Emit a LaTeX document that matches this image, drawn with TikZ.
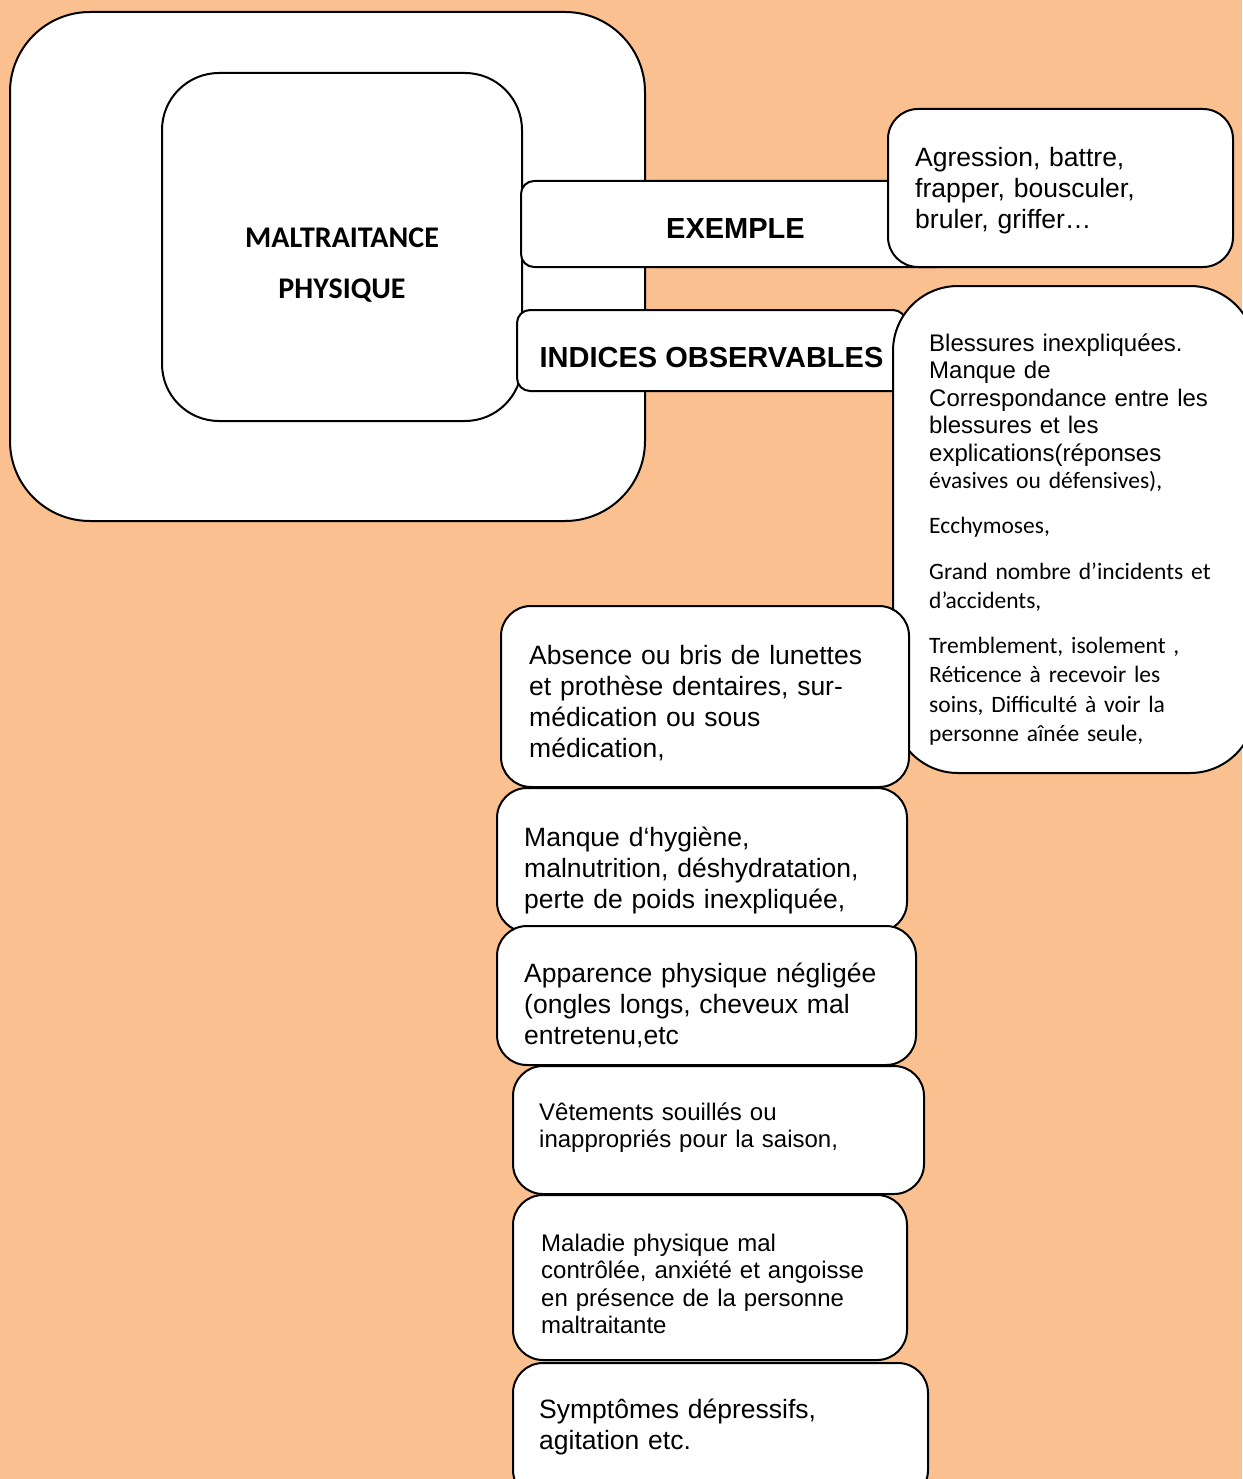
\documentclass[tikz,border=0pt]{standalone}
\usepackage{fontspec}
\setmainfont{Liberation Sans}
\newfontfamily\carlito{Carlito}
\definecolor{peach}{HTML}{FAC090}

\newcommand{\bigtext}{\fontsize{26.5}{31}\selectfont}
\newcommand{\smalltext}{\fontsize{24}{27.5}\selectfont}
\newcommand{\calibritext}{\carlito\fontsize{23.5}{29.5}\selectfont}

\tikzset{
  cellbox/.style={draw=black, line width=2pt, fill=white, rounded corners=#1},
  cellbox/.default=30pt,
  celltext/.style={anchor=base west, inner sep=0pt, text width=400pt, font=#1},
  celltext/.default=\bigtext,
  tabtext/.style={anchor=base, inner sep=0pt, font=\bfseries\fontsize{29}{34}\selectfont}
}

\begin{document}
\begin{tikzpicture}[x=1pt,y=-1pt]

\useasboundingbox (0,0) rectangle (1242,1479);
\fill[peach] (0,0) rectangle (1242,1479);

\draw[cellbox=80pt] (10,12) rectangle (645,521);
\draw[cellbox=57pt] (162,73) rectangle (522,421);
\node[anchor=base, inner sep=0pt, align=center, text width=320pt,
      font=\carlito\bfseries\fontsize{30}{51.4}\selectfont] (titre) at (342,247.6) {MALTRAITANCE\\PHYSIQUE};

\draw[cellbox=13pt] (521,181) rectangle (950,267);
\node[tabtext] (exemple) at (735.5,239) {EXEMPLE};

\draw[cellbox=13pt] (517,310) rectangle (906,391);
\node[tabtext] (indices) at (711.5,367.5) {INDICES OBSERVABLES};

\draw[cellbox] (888,109) rectangle (1233,267);
\node[celltext] (gestes) at (915,167) {Agression, battre,\\ frapper, bousculer,\\ bruler, griffer…};

\draw[cellbox=65pt] (893,286) rectangle (1255,773);
\node[celltext=\smalltext] (blessures) at (929,351) {Blessures inexpliquées.\\ Manque de\\ Correspondance entre les\\ blessures et les\\ explications(réponses\\ {\carlito\fontsize{23.5}{27.5}\selectfont évasives ou défensives),}};
\node[celltext=\calibritext] (ecchymoses) at (929,533.5) {Ecchymoses,};
\node[celltext=\calibritext] (incidents) at (929,579) {Grand nombre d’incidents et\\ d’accidents,};
\node[celltext=\calibritext] (isolement) at (929,653) {Tremblement, isolement ,\\ Réticence à recevoir les\\ soins, Difficulté à voir la\\ personne aînée seule,};

\foreach \xa/\ya/\xb/\yb in {501/606/909/787, 497/788/907/932, 497/926/916/1065,
                             513/1066/924/1194, 513/1195/907/1360, 513/1363/928/1500} {
        \draw[cellbox] (\xa,\ya) rectangle (\xb,\yb);
}

\node[celltext] (lunettes) at (529,664) {Absence ou bris de lunettes\\ et prothèse dentaires, sur-\\ médication ou sous\\ médication,};
\node[celltext] (hygiene) at (524,846) {Manque d‘hygiène,\\ malnutrition, déshydratation,\\ perte de poids inexpliquée,};
\node[celltext] (apparence) at (524,982) {Apparence physique négligée\\ (ongles longs, cheveux mal\\ entretenu,etc};
\node[celltext=\smalltext] (vetements) at (539,1120) {Vêtements souillés ou\\ inappropriés pour la saison,};
\node[celltext=\smalltext] (maladie) at (541,1251) {Maladie physique mal\\ contrôlée, anxiété et angoisse\\ en présence de la personne\\ maltraitante};
\node[celltext] (symptomes) at (539,1418) {Symptômes dépressifs,\\ agitation etc.};

\end{tikzpicture}
\end{document}
